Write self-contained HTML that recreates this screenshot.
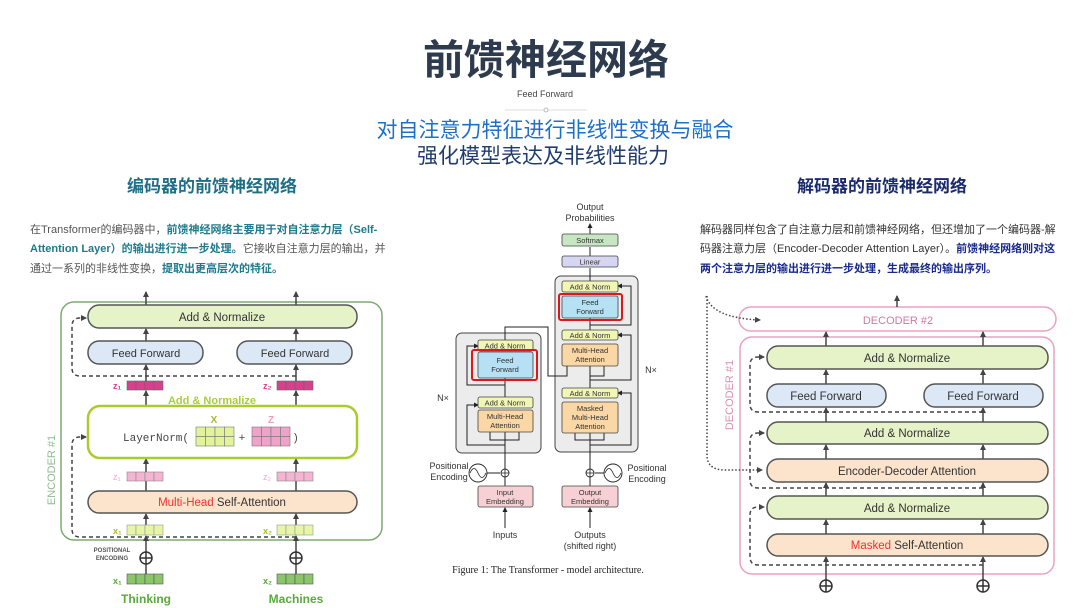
<!DOCTYPE html>
<html><head><meta charset="utf-8"><style>
html,body{margin:0;padding:0;background:#fff;}
svg{display:block}
.cj{font-family:"Liberation Sans","Noto Sans CJK SC",sans-serif;}
.sm{font-family:"Liberation Sans","DejaVu Sans",sans-serif;}
</style></head><body>
<svg width="1080" height="608" viewBox="0 0 1080 608" xmlns="http://www.w3.org/2000/svg">
<defs>
<marker id="a" markerWidth="6" markerHeight="6" refX="5" refY="3" orient="auto" markerUnits="userSpaceOnUse"><path d="M0,0 L6,3 L0,6z" fill="#444"/></marker>
<marker id="b" markerWidth="5" markerHeight="5" refX="4" refY="2.5" orient="auto" markerUnits="userSpaceOnUse"><path d="M0,0 L5,2.5 L0,5z" fill="#222"/></marker>
</defs>
<!-- Header -->
<text x="546" y="74" text-anchor="middle" class="cj" font-size="41" font-weight="bold" fill="#2e3b4e">前馈神经网络</text>
<text x="545" y="97" text-anchor="middle" class="sm" font-size="9" fill="#444">Feed Forward</text>
<line x1="505" y1="110" x2="587" y2="110" stroke="#ddd" stroke-width="1"/>
<circle cx="546" cy="110" r="2" fill="#fff" stroke="#bbb"/>
<text x="555" y="137" text-anchor="middle" class="cj" font-size="21" fill="#1f6fc8">对自注意力特征进行非线性变换与融合</text>
<text x="543" y="163" text-anchor="middle" class="cj" font-size="21" fill="#1e3d6e">强化模型表达及非线性能力</text>

<!-- Left text -->
<text x="212" y="192" text-anchor="middle" class="cj" font-size="17" font-weight="bold" fill="#1f6e86">编码器的前馈神经网络</text>
<g class="cj" font-size="11" fill="#555">
<text x="30" y="233">在Transformer的编码器中，<tspan fill="#1f7a8c" font-weight="bold">前馈神经网络主要用于对自注意力层（Self-</tspan></text>
<text x="30" y="252"><tspan fill="#1f7a8c" font-weight="bold">Attention Layer）的输出进行进一步处理。</tspan>它接收自注意力层的输出，并</text>
<text x="30" y="272">通过一系列的非线性变换，<tspan fill="#1f7a8c" font-weight="bold">提取出更高层次的特征。</tspan></text>
</g>
<!-- Right text -->
<text x="882" y="192" text-anchor="middle" class="cj" font-size="17" font-weight="bold" fill="#1a2a6c">解码器的前馈神经网络</text>
<g class="cj" font-size="11" fill="#333">
<text x="700" y="233">解码器同样包含了自注意力层和前馈神经网络，但还增加了一个编码器-解</text>
<text x="700" y="252">码器注意力层（Encoder-Decoder Attention Layer）。<tspan fill="#1a2a8c" font-weight="bold">前馈神经网络则对这</tspan></text>
<text x="700" y="272"><tspan fill="#1a2a8c" font-weight="bold">两个注意力层的输出进行进一步处理，生成最终的输出序列。</tspan></text>
</g>

<!-- ===== Left encoder diagram ===== -->
<g class="sm">
<rect x="61" y="302" width="321" height="238" rx="13" fill="none" stroke="#7faa72" stroke-width="1.5"/>
<text transform="translate(55,470) rotate(-90)" text-anchor="middle" font-size="11" fill="#8fbb8f">ENCODER #1</text>
<!-- arrows -->
<g stroke="#444" stroke-width="1.5" marker-end="url(#a)">
<line x1="146" y1="305" x2="146" y2="292"/><line x1="296" y1="305" x2="296" y2="292"/>
<line x1="146" y1="341" x2="146" y2="329"/><line x1="296" y1="341" x2="296" y2="329"/>
<line x1="146" y1="381" x2="146" y2="365"/><line x1="296" y1="381" x2="296" y2="365"/>
<line x1="146" y1="405" x2="146" y2="391"/><line x1="296" y1="405" x2="296" y2="391"/>
<line x1="146" y1="491" x2="146" y2="459"/><line x1="296" y1="491" x2="296" y2="459"/>
<line x1="146" y1="525" x2="146" y2="514"/><line x1="296" y1="525" x2="296" y2="514"/>
<line x1="146" y1="574" x2="146" y2="536"/><line x1="296" y1="574" x2="296" y2="536"/>
</g>
<g fill="none" stroke="#444" stroke-width="1.5" stroke-dasharray="4,3">
<path d="M296,376 H80 Q72,376 72,368 V326 Q72,318 80,318 H86" marker-end="url(#a)"/>
<path d="M296,537 H80 Q72,537 72,529 V445 Q72,437 80,437 H86" marker-end="url(#a)"/>
</g>
<rect x="88" y="305" width="269" height="23" rx="11" fill="#e6f3c8" stroke="#555" stroke-width="1.5"/>
<text x="222" y="321" text-anchor="middle" font-size="11.5" fill="#333">Add &amp; Normalize</text>
<rect x="88" y="341" width="115" height="23" rx="11" fill="#dde8f7" stroke="#555" stroke-width="1.5"/>
<text x="146" y="357" text-anchor="middle" font-size="11" fill="#333">Feed Forward</text>
<rect x="237" y="341" width="115" height="23" rx="11" fill="#dde8f7" stroke="#555" stroke-width="1.5"/>
<text x="295" y="357" text-anchor="middle" font-size="11" fill="#333">Feed Forward</text>
<!-- z rows -->
<text x="113" y="389" font-size="9" font-weight="bold" fill="#d6418d">z₁</text>
<text x="263" y="389" font-size="9" font-weight="bold" fill="#d6418d">z₂</text>
<g stroke="#666" stroke-width="0.6" fill="#d6418d">
<rect x="127" y="381" width="9" height="9"/><rect x="136" y="381" width="9" height="9"/><rect x="145" y="381" width="9" height="9"/><rect x="154" y="381" width="9" height="9"/>
<rect x="277" y="381" width="9" height="9"/><rect x="286" y="381" width="9" height="9"/><rect x="295" y="381" width="9" height="9"/><rect x="304" y="381" width="9" height="9"/>
</g>
<text x="212" y="404" text-anchor="middle" font-size="11" font-weight="bold" fill="#aacd3e">Add &amp; Normalize</text>
<rect x="88" y="406" width="269" height="52" rx="12" fill="#fff" stroke="#a8cc2a" stroke-width="2.5"/>
<text x="214" y="423" text-anchor="middle" font-size="10" font-weight="bold" fill="#a8b830">X</text>
<text x="271" y="423" text-anchor="middle" font-size="10" font-weight="bold" fill="#ee99c4">Z</text>
<text x="123" y="441" font-family="Liberation Mono,monospace" font-size="11" fill="#444">LayerNorm(</text>
<g stroke="#777" stroke-width="0.6" fill="#e3f39a">
<rect x="196" y="427" width="9.5" height="9.5"/><rect x="205.5" y="427" width="9.5" height="9.5"/><rect x="215" y="427" width="9.5" height="9.5"/><rect x="224.5" y="427" width="9.5" height="9.5"/>
<rect x="196" y="436.5" width="9.5" height="9.5"/><rect x="205.5" y="436.5" width="9.5" height="9.5"/><rect x="215" y="436.5" width="9.5" height="9.5"/><rect x="224.5" y="436.5" width="9.5" height="9.5"/>
</g>
<g stroke="#777" stroke-width="0.6" fill="#f0a3c9">
<rect x="252" y="427" width="9.5" height="9.5"/><rect x="261.5" y="427" width="9.5" height="9.5"/><rect x="271" y="427" width="9.5" height="9.5"/><rect x="280.5" y="427" width="9.5" height="9.5"/>
<rect x="252" y="436.5" width="9.5" height="9.5"/><rect x="261.5" y="436.5" width="9.5" height="9.5"/><rect x="271" y="436.5" width="9.5" height="9.5"/><rect x="280.5" y="436.5" width="9.5" height="9.5"/>
</g>
<text x="242" y="441" text-anchor="middle" font-size="11" fill="#444">+</text>
<text x="294" y="441" font-size="11" fill="#444">)</text>
<text x="113" y="480" font-size="9" fill="#f3a9cb">z₁</text>
<text x="263" y="480" font-size="9" fill="#f3a9cb">z₂</text>
<g stroke="#888" stroke-width="0.6" fill="#f5b5d2">
<rect x="127" y="472" width="9" height="9"/><rect x="136" y="472" width="9" height="9"/><rect x="145" y="472" width="9" height="9"/><rect x="154" y="472" width="9" height="9"/>
<rect x="277" y="472" width="9" height="9"/><rect x="286" y="472" width="9" height="9"/><rect x="295" y="472" width="9" height="9"/><rect x="304" y="472" width="9" height="9"/>
</g>
<rect x="88" y="491" width="269" height="22" rx="11" fill="#fbe3cc" stroke="#555" stroke-width="1.5"/>
<text x="222" y="506" text-anchor="middle" font-size="11.5" fill="#333"><tspan fill="#e33">Multi-Head</tspan> Self-Attention</text>
<text x="113" y="534" font-size="9" font-weight="bold" fill="#a6c030">x₁</text>
<text x="263" y="534" font-size="9" font-weight="bold" fill="#a6c030">x₂</text>
<g stroke="#999" stroke-width="0.6" fill="#e6f5a6">
<rect x="127" y="525" width="9" height="10"/><rect x="136" y="525" width="9" height="10"/><rect x="145" y="525" width="9" height="10"/><rect x="154" y="525" width="9" height="10"/>
<rect x="277" y="525" width="9" height="10"/><rect x="286" y="525" width="9" height="10"/><rect x="295" y="525" width="9" height="10"/><rect x="304" y="525" width="9" height="10"/>
</g>
<text x="112" y="552" text-anchor="middle" font-size="6" font-weight="bold" fill="#555">POSITIONAL</text>
<text x="112" y="560" text-anchor="middle" font-size="6" font-weight="bold" fill="#555">ENCODING</text>
<g fill="#fff" stroke="#333" stroke-width="1.5">
<circle cx="146" cy="558" r="6"/><circle cx="296" cy="558" r="6"/>
</g>
<g stroke="#333" stroke-width="1.5"><line x1="140" y1="558" x2="152" y2="558"/><line x1="290" y1="558" x2="302" y2="558"/><line x1="146" y1="552" x2="146" y2="564"/><line x1="296" y1="552" x2="296" y2="564"/></g>
<text x="113" y="584" font-size="9" font-weight="bold" fill="#5aaa3a">x₁</text>
<text x="263" y="584" font-size="9" font-weight="bold" fill="#5aaa3a">x₂</text>
<g stroke="#555" stroke-width="0.6" fill="#8bc76a">
<rect x="127" y="574" width="9" height="10"/><rect x="136" y="574" width="9" height="10"/><rect x="145" y="574" width="9" height="10"/><rect x="154" y="574" width="9" height="10"/>
<rect x="277" y="574" width="9" height="10"/><rect x="286" y="574" width="9" height="10"/><rect x="295" y="574" width="9" height="10"/><rect x="304" y="574" width="9" height="10"/>
</g>
<text x="146" y="603" text-anchor="middle" font-size="12" font-weight="bold" fill="#5aaa3a">Thinking</text>
<text x="296" y="603" text-anchor="middle" font-size="12" font-weight="bold" fill="#5aaa3a">Machines</text>
</g>

<!-- ===== Center transformer ===== -->
<g class="sm" font-size="7.5" fill="#333">
<text x="590" y="210" text-anchor="middle" font-size="9">Output</text>
<text x="590" y="221" text-anchor="middle" font-size="9">Probabilities</text>
<rect x="555" y="276" width="83" height="176" rx="6" fill="#ececec" stroke="#444"/>
<rect x="456" y="333" width="85" height="120" rx="6" fill="#ececec" stroke="#444"/>
<g stroke="#222" stroke-width="1" fill="none">
<line x1="590" y1="234" x2="590" y2="224" marker-end="url(#b)"/>
<line x1="590" y1="256" x2="590" y2="247"/>
<line x1="590" y1="281" x2="590" y2="268"/>
<line x1="590" y1="330" x2="590" y2="318"/>
<line x1="590" y1="388" x2="590" y2="366"/>
<line x1="590" y1="486" x2="590" y2="433"/>
<line x1="590" y1="528" x2="590" y2="508" marker-end="url(#b)"/>
<line x1="505" y1="397" x2="505" y2="378"/>
<line x1="505" y1="486" x2="505" y2="432"/>
<line x1="505" y1="528" x2="505" y2="508" marker-end="url(#b)"/>
<path d="M505,340 V327 H548 V376 H567 V366" />
<path d="M505,376 H519 V366"/>
<path d="M590,376 H604 V366"/>
<path d="M505,445 H467 V405 H478" marker-end="url(#b)"/>
<path d="M505,385 H467 V346 H478" marker-end="url(#b)"/>
<path d="M505,440 H490 V432 M505,440 H519 V432"/>
<path d="M590,440 H575 V433 M590,440 H604 V433"/>
<path d="M590,445 H631 V393 H618" marker-end="url(#b)"/>
<path d="M590,380 H631 V335 H618" marker-end="url(#b)"/>
<path d="M590,325 H631 V286 H618" marker-end="url(#b)"/>
<line x1="487" y1="473" x2="500" y2="473"/>
<line x1="595" y1="473" x2="604" y2="473"/>
</g>
<rect x="562" y="234" width="56" height="12" rx="2" fill="#c8e6c4" stroke="#444" stroke-width="0.8"/>
<text x="590" y="243" text-anchor="middle">Softmax</text>
<rect x="562" y="256" width="56" height="11" rx="2" fill="#d6d6f2" stroke="#444" stroke-width="0.8"/>
<text x="590" y="264.5" text-anchor="middle">Linear</text>
<rect x="562" y="281" width="56" height="11" rx="2" fill="#f2f6b4" stroke="#444" stroke-width="0.8"/>
<text x="590" y="289.5" text-anchor="middle">Add &amp; Norm</text>
<rect x="562" y="296" width="56" height="22" rx="2" fill="#b6e0f4" stroke="#444" stroke-width="0.8"/>
<text x="590" y="305" text-anchor="middle">Feed</text><text x="590" y="314" text-anchor="middle">Forward</text>
<rect x="559" y="294" width="63" height="26" rx="2" fill="none" stroke="#e0161e" stroke-width="2"/>
<rect x="562" y="330" width="56" height="10" rx="2" fill="#f2f6b4" stroke="#444" stroke-width="0.8"/>
<text x="590" y="338" text-anchor="middle">Add &amp; Norm</text>
<rect x="562" y="344" width="56" height="22" rx="2" fill="#fbd7a5" stroke="#444" stroke-width="0.8"/>
<text x="590" y="353" text-anchor="middle">Multi-Head</text><text x="590" y="362" text-anchor="middle">Attention</text>
<rect x="562" y="388" width="56" height="10" rx="2" fill="#f2f6b4" stroke="#444" stroke-width="0.8"/>
<text x="590" y="396" text-anchor="middle">Add &amp; Norm</text>
<rect x="562" y="402" width="56" height="31" rx="2" fill="#fbd7a5" stroke="#444" stroke-width="0.8"/>
<text x="590" y="411" text-anchor="middle">Masked</text><text x="590" y="420" text-anchor="middle">Multi-Head</text><text x="590" y="429" text-anchor="middle">Attention</text>
<text x="651" y="373" text-anchor="middle" font-size="9">N×</text>
<rect x="478" y="340" width="55" height="11" rx="2" fill="#f2f6b4" stroke="#444" stroke-width="0.8"/>
<text x="505" y="348.5" text-anchor="middle">Add &amp; Norm</text>
<rect x="478" y="352" width="55" height="26" rx="2" fill="#b6e0f4" stroke="#444" stroke-width="0.8"/>
<text x="505" y="363" text-anchor="middle">Feed</text><text x="505" y="372" text-anchor="middle">Forward</text>
<rect x="472" y="350" width="65" height="30" rx="2" fill="none" stroke="#e0161e" stroke-width="2"/>
<rect x="478" y="397" width="55" height="11" rx="2" fill="#f2f6b4" stroke="#444" stroke-width="0.8"/>
<text x="505" y="405.5" text-anchor="middle">Add &amp; Norm</text>
<rect x="478" y="410" width="55" height="22" rx="2" fill="#fbd7a5" stroke="#444" stroke-width="0.8"/>
<text x="505" y="419" text-anchor="middle">Multi-Head</text><text x="505" y="428" text-anchor="middle">Attention</text>
<text x="443" y="401" text-anchor="middle" font-size="9">N×</text>
<text x="449" y="469" text-anchor="middle" font-size="9">Positional</text>
<text x="449" y="480" text-anchor="middle" font-size="9">Encoding</text>
<text x="647" y="471" text-anchor="middle" font-size="9">Positional</text>
<text x="647" y="482" text-anchor="middle" font-size="9">Encoding</text>
<g fill="#fff" stroke="#222" stroke-width="0.9">
<circle cx="478" cy="473" r="9"/><circle cx="613" cy="473" r="9"/>
<circle cx="505" cy="473" r="4"/><circle cx="590" cy="473" r="4"/>
</g>
<g stroke="#222" stroke-width="0.8" fill="none">
<path d="M470,473 Q474,464 478,473 T486,473"/><path d="M605,473 Q609,464 613,473 T621,473"/>
<path d="M501,473 H509 M505,469 V477 M586,473 H594 M590,469 V477"/>
</g>
<rect x="478" y="486" width="55" height="21" rx="2" fill="#f6d0d4" stroke="#444" stroke-width="0.8"/>
<text x="505" y="495" text-anchor="middle">Input</text><text x="505" y="504" text-anchor="middle">Embedding</text>
<rect x="562" y="486" width="56" height="21" rx="2" fill="#f6d0d4" stroke="#444" stroke-width="0.8"/>
<text x="590" y="495" text-anchor="middle">Output</text><text x="590" y="504" text-anchor="middle">Embedding</text>
<text x="505" y="538" text-anchor="middle" font-size="9">Inputs</text>
<text x="590" y="538" text-anchor="middle" font-size="9">Outputs</text>
<text x="590" y="549" text-anchor="middle" font-size="9">(shifted right)</text>
<text x="548" y="573" text-anchor="middle" font-family="Liberation Serif,serif" font-size="10" fill="#222">Figure 1: The Transformer - model architecture.</text>
</g>

<!-- ===== Right decoder ===== -->
<g class="sm">
<rect x="739" y="307" width="317" height="24" rx="12" fill="#fff" stroke="#eba0c2" stroke-width="1.5"/>
<text x="898" y="324" text-anchor="middle" font-size="11" fill="#d07aa0">DECODER #2</text>
<rect x="740" y="337" width="314" height="237" rx="12" fill="#fff" stroke="#eba0c2" stroke-width="1.5"/>
<text transform="translate(733,395) rotate(-90)" text-anchor="middle" font-size="11" fill="#d990b0">DECODER #1</text>
<g fill="none" stroke="#444" stroke-width="1.5" stroke-dasharray="1.5,2">
<path d="M706,296 Q712,318 760,320" marker-end="url(#a)"/>
<path d="M707,296 V455 Q707,470 725,470 H762" marker-end="url(#a)"/>
</g>
<g stroke="#444" stroke-width="1.5" marker-end="url(#a)">
<line x1="897" y1="307" x2="897" y2="296"/>
<line x1="826" y1="346" x2="826" y2="332"/><line x1="983" y1="346" x2="983" y2="332"/>
<line x1="826" y1="384" x2="826" y2="370"/><line x1="983" y1="384" x2="983" y2="370"/>
<line x1="826" y1="422" x2="826" y2="408"/><line x1="983" y1="422" x2="983" y2="408"/>
<line x1="826" y1="459" x2="826" y2="445"/><line x1="983" y1="459" x2="983" y2="445"/>
<line x1="826" y1="496" x2="826" y2="483"/><line x1="983" y1="496" x2="983" y2="483"/>
<line x1="826" y1="534" x2="826" y2="520"/><line x1="983" y1="534" x2="983" y2="520"/>
<line x1="826" y1="580" x2="826" y2="557"/><line x1="983" y1="580" x2="983" y2="557"/>
</g>
<g fill="none" stroke="#444" stroke-width="1.5" stroke-dasharray="4,3">
<path d="M983,412 H758 Q750,412 750,404 V365 Q750,357 758,357 H764" marker-end="url(#a)"/>
<path d="M983,488 H758 Q750,488 750,480 V441 Q750,433 758,433 H764" marker-end="url(#a)"/>
<path d="M983,565 H758 Q750,565 750,557 V515 Q750,507 758,507 H764" marker-end="url(#a)"/>
</g>
<g stroke="#555" stroke-width="1.5">
<rect x="767" y="346" width="281" height="23" rx="11" fill="#e6f3c8"/>
<rect x="767" y="384" width="119" height="23" rx="11" fill="#dde8f7"/>
<rect x="924" y="384" width="119" height="23" rx="11" fill="#dde8f7"/>
<rect x="767" y="422" width="281" height="22" rx="11" fill="#e6f3c8"/>
<rect x="767" y="459" width="281" height="23" rx="11" fill="#fbe3cc"/>
<rect x="767" y="496" width="281" height="23" rx="11" fill="#e6f3c8"/>
<rect x="767" y="534" width="281" height="22" rx="11" fill="#fbe3cc"/>
</g>
<g font-size="11.5" fill="#333" text-anchor="middle">
<text x="907" y="362">Add &amp; Normalize</text>
<text x="826" y="400">Feed Forward</text>
<text x="983" y="400">Feed Forward</text>
<text x="907" y="437">Add &amp; Normalize</text>
<text x="907" y="475">Encoder-Decoder Attention</text>
<text x="907" y="512">Add &amp; Normalize</text>
<text x="907" y="549"><tspan fill="#e33">Masked</tspan> Self-Attention</text>
</g>
<g fill="#fff" stroke="#333" stroke-width="1.5">
<circle cx="826" cy="586" r="6"/><circle cx="983" cy="586" r="6"/>
</g>
<g stroke="#333" stroke-width="1.5"><line x1="820" y1="586" x2="832" y2="586"/><line x1="977" y1="586" x2="989" y2="586"/><line x1="826" y1="580" x2="826" y2="592"/><line x1="983" y1="580" x2="983" y2="592"/></g>
</g>
</svg>
</body></html>
